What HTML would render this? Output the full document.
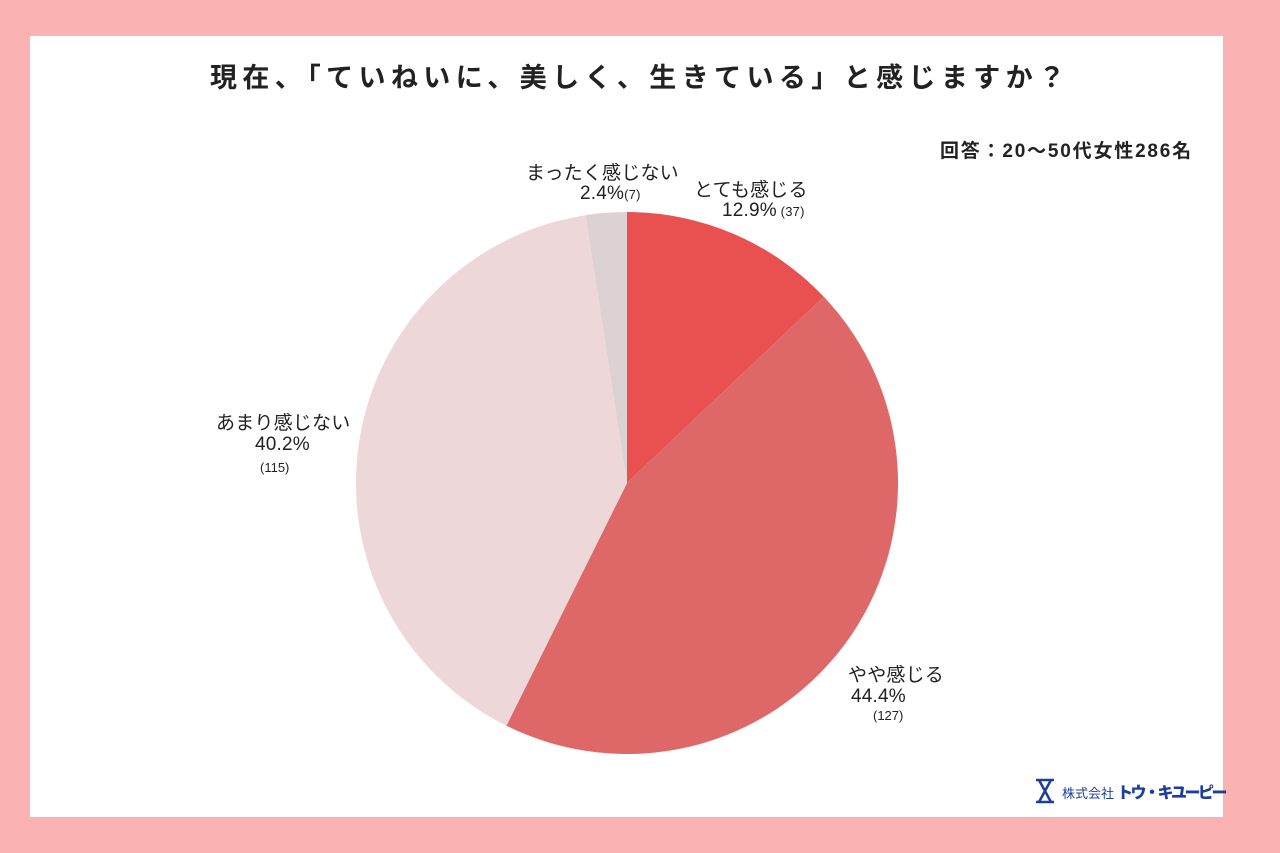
<!DOCTYPE html>
<html><head><meta charset="utf-8"><style>
body{margin:0;width:1280px;height:853px;background:#FBB2B2;font-family:"Liberation Sans","Noto Sans CJK JP",sans-serif;}
.card{position:absolute;left:30px;top:36px;width:1193px;height:781px;background:#fff;}
.t{position:absolute;white-space:nowrap;color:#222;}
.l{font-size:19px;letter-spacing:0.2px}
</style></head><body>
<div class="card"></div>
<svg style="position:absolute;left:0;top:0" width="1280" height="853">
<path d="M627,483 L627,212 A271,271 0 0,1 823.8,296.7 Z" fill="#E95151"/>
<path d="M627,483 L823.8,296.7 A271,271 0 0,1 506.4,725.7 Z" fill="#DE6868"/>
<path d="M627,483 L506.4,725.7 A271,271 0 0,1 585.5,215.2 Z" fill="#EDD7D9"/>
<path d="M627,483 L585.5,215.2 A271,271 0 0,1 627,212 Z" fill="#DCD1D3"/>
<g stroke="#1E3E9E" stroke-width="2.5" fill="none">
<line x1="1036" y1="780" x2="1054" y2="780"/><line x1="1036" y1="802" x2="1054" y2="802"/>
<line x1="1039" y1="780" x2="1051" y2="802"/><line x1="1051" y1="780" x2="1039" y2="802"/>
</g>
</svg>
<div class="t" style="left:210px;top:56px;font-size:27px;font-weight:bold;letter-spacing:5.4px">現在、「ていねいに、美しく、生きている」と感じますか？</div>
<div class="t" style="left:940px;top:136px;font-size:19px;font-weight:bold;letter-spacing:1.8px">回答：20〜50代女性286名</div>
<div class="t l" style="left:526px;top:158px;">まったく感じない</div>
<div class="t l" style="left:580px;top:183px;">2.4%<span style="font-size:13px">(7)</span></div>
<div class="t l" style="left:694px;top:175px;">とても感じる</div>
<div class="t l" style="left:722px;top:200px;">12.9%<span style="font-size:13px"> (37)</span></div>
<div class="t l" style="left:216px;top:408px;">あまり感じない</div>
<div class="t l" style="left:255px;top:434px;">40.2%</div>
<div class="t" style="left:260px;top:460px;font-size:13px">(115)</div>
<div class="t l" style="left:848px;top:660px;">やや感じる</div>
<div class="t l" style="left:851px;top:686px;">44.4%</div>
<div class="t" style="left:873px;top:708px;font-size:13px">(127)</div>
<div class="t" style="left:1062px;top:783px;font-size:13px;color:#1E3E9E">株式会社</div>
<div class="t" style="left:1117px;top:779px;font-size:16px;color:#1E3E9E;font-weight:900;letter-spacing:-2.5px">トウ・キユーピー</div>
</body></html>
